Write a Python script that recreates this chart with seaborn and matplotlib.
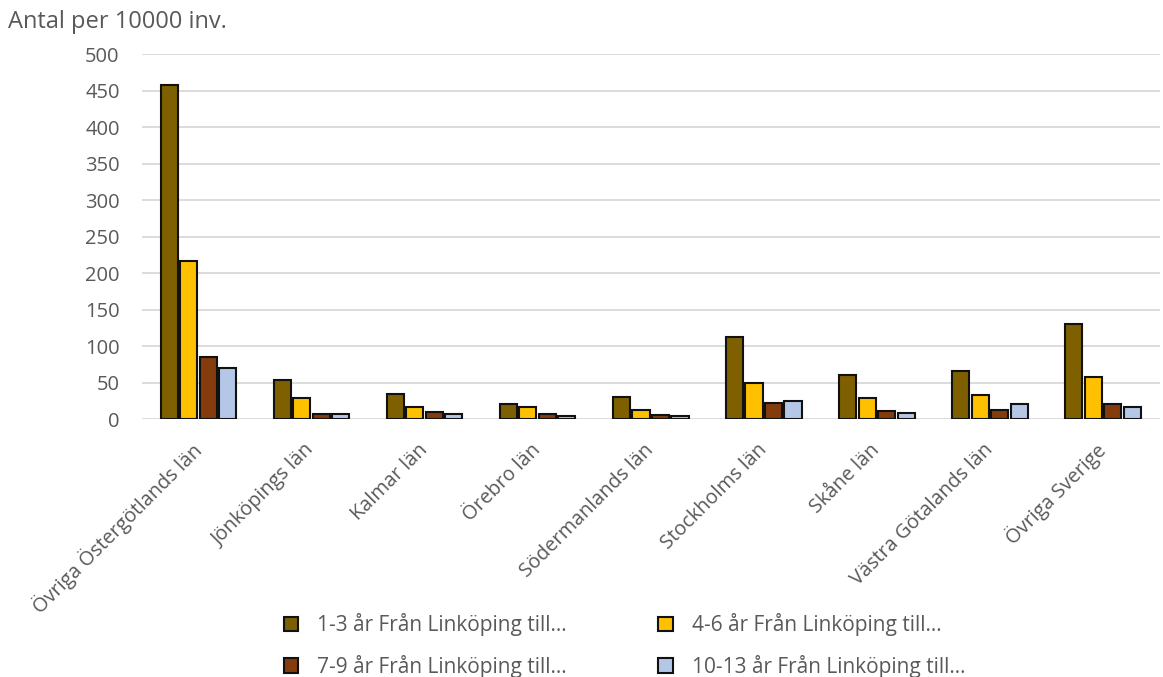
import numpy as np
import pandas as pd
import seaborn as sns
import matplotlib.pyplot as plt

# data
lan = ['Övriga Östergötlands län', 'Jönköpings län', 'Kalmar län', 'Örebro län',
       'Södermanlands län', 'Stockholms län', 'Skåne län', 'Västra Götalands län',
       'Övriga Sverige']
series = ['1-3 år Från Linköping till...', '4-6 år Från Linköping till...',
          '7-9 år Från Linköping till...', '10-13 år Från Linköping till...']
age_1_3 = [458, 53, 34, 20, 30, 113, 60, 66, 130]
age_4_6 = [217, 29, 16, 17, 13, 49, 29, 33, 58]
age_7_9 = [85, 7, 9, 7, 5, 22, 11, 12, 20]
age_10_13 = [70, 7, 7, 4, 4, 25, 8, 21, 17]
colors = ['#7F6000', '#FFC000', '#843C0C', '#B4C7E7']

df = pd.DataFrame({
    'lan': lan * 4,
    'serie': np.repeat(series, len(lan)),
    'antal': age_1_3 + age_4_6 + age_7_9 + age_10_13,
})

sns.set_style('white')
plt.rcParams['font.family'] = ['Open Sans', 'DejaVu Sans']
text_col = '#595959'

fig = plt.figure(figsize=(11.63, 6.77), dpi=100)
ax = fig.add_axes([0.122, 0.381, 0.875, 0.539])

sns.barplot(data=df, x='lan', y='antal', hue='serie', palette=colors,
            saturation=1, width=0.69, gap=0.12, edgecolor='#111111',
            linewidth=1.5, errorbar=None, ax=ax, zorder=3)

ax.set_ylim(0, 500)
ax.set_xlim(-0.5, len(lan) - 0.5)
ax.set_yticks(range(0, 501, 50))
ax.yaxis.grid(True, color='#D9D9D9', linewidth=1.3, zorder=0)
ax.set_axisbelow(True)
for s in ax.spines.values():
    s.set_visible(False)
ax.set_xlabel('')
ax.set_ylabel('')
ax.tick_params(axis='y', length=0, labelsize=14.5, labelcolor=text_col, pad=16)
ax.tick_params(axis='x', length=0, labelsize=14.3, labelcolor=text_col, pad=20)
plt.setp(ax.get_xticklabels(), rotation=45, ha='right', va='center',
         rotation_mode='anchor')

fig.text(0.007, 0.968, 'Antal per 10000 inv.', fontsize=17, color=text_col,
         va='center', ha='left')

# legend filled row by row like the reference
handles, labels = ax.get_legend_handles_labels()
ax.get_legend().remove()
order = [0, 2, 1, 3]
leg = fig.legend([handles[i] for i in order], [labels[i] for i in order],
                 loc='center', bbox_to_anchor=(0.537, 0.0465),
                 ncol=2, frameon=False, fontsize=15, handlelength=0.7,
                 handleheight=0.7, columnspacing=4.4, handletextpad=0.9,
                 labelspacing=0.87)
for t in leg.get_texts():
    t.set_color(text_col)

fig.savefig('out.png', dpi=100)
